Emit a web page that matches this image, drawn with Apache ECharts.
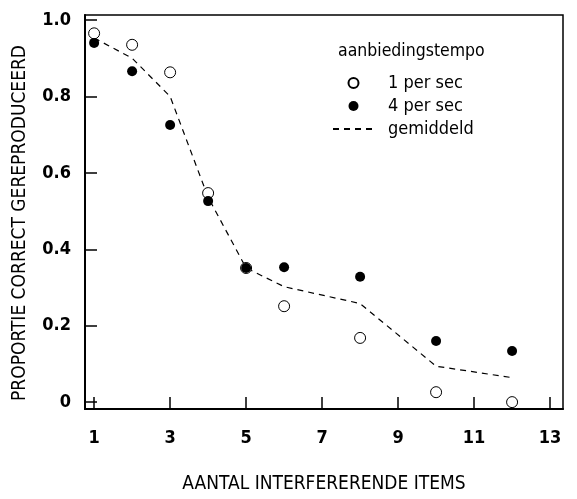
<!DOCTYPE html>
<html>
<head>
<meta charset="utf-8">
<script src="https://cdn.jsdelivr.net/npm/echarts@6/dist/echarts.min.js"></script>
<style>
  html, body { margin: 0; padding: 0; background: #fff; }
  #chart { width: 577px; height: 499px; }
</style>
</head>
<body>
<div id="chart"></div>
<script>
const FONT = "'Liberation Sans Narrow', 'DejaVu Sans Condensed', 'Roboto', sans-serif"

const items = [1, 2, 3, 4, 5, 6, 8, 10, 12]
const perSec1 = [0.965, 0.935, 0.863, 0.547, 0.351, 0.251, 0.168, 0.026, 0.0]
const perSec4 = [0.94, 0.866, 0.725, 0.526, 0.351, 0.353, 0.328, 0.16, 0.134]
const average = [0.953, 0.9, 0.8, 0.536, 0.351, 0.302, 0.258, 0.094, 0.064]

const xTicks = [1, 3, 5, 7, 9, 11, 13]
const yTicks = [0, 0.2, 0.4, 0.6, 0.8, 1.0]
const yTickLabels = ['0', '0.2', '0.4', '0.6', '0.8', '1.0']

const pairs = (ys) => items.map((x, i) => [x, ys[i]])

const chart = echarts.init(document.getElementById('chart'), null, { renderer: 'canvas' })

chart.setOption({
  animation: false,
  backgroundColor: '#fff',
  textStyle: { fontFamily: FONT, color: '#000' },
  grid: {
    left: 85,
    top: 15,
    right: 14,
    bottom: 90,
    show: true,
    borderColor: '#000',
    borderWidth: 1.5
  },
  title: {
    text: 'aanbiedingstempo',
    left: 338,
    top: 42,
    padding: 0,
    textStyle: { fontFamily: FONT, fontSize: 17.5, fontWeight: 'normal', color: '#000' }
  },
  legend: {
    orient: 'vertical',
    left: 332,
    top: 74,
    padding: 0,
    itemWidth: 41,
    itemHeight: 10,
    itemGap: 5,
    selectedMode: false,
    textStyle: { fontFamily: FONT, fontSize: 18, color: '#000', padding: [0, 0, 0, 9] },
    data: [
      '1 per sec',
      '4 per sec',
      { name: 'gemiddeld', itemStyle: { opacity: 0 } }
    ]
  },
  xAxis: {
    type: 'value',
    min: 0.76,
    max: 13.34,
    name: 'AANTAL INTERFERERENDE ITEMS',
    nameLocation: 'middle',
    nameGap: 66,
    nameTextStyle: { fontFamily: FONT, fontSize: 19, color: '#000' },
    splitLine: { show: false },
    axisLine: { onZero: false, lineStyle: { color: '#000', width: 2 } },
    axisTick: { inside: true, length: 12, customValues: xTicks, lineStyle: { color: '#000', width: 1.5 } },
    axisLabel: {
      customValues: xTicks,
      margin: 20,
      fontFamily: FONT,
      fontSize: 18,
      fontWeight: 'bold',
      color: '#000'
    }
  },
  yAxis: {
    type: 'value',
    min: -0.018,
    max: 1.013,
    name: 'PROPORTIE CORRECT GEREPRODUCEERD',
    nameLocation: 'middle',
    nameGap: 55,
    nameTextStyle: { fontFamily: FONT, fontSize: 19, color: '#000', padding: [0, 22, 0, 0] },
    splitLine: { show: false },
    axisLine: { onZero: false, lineStyle: { color: '#000', width: 2 } },
    axisTick: { inside: true, length: 12, customValues: yTicks, lineStyle: { color: '#000', width: 1.5 } },
    axisLabel: {
      customValues: yTicks,
      margin: 14,
      fontFamily: FONT,
      fontSize: 18,
      fontWeight: 'bold',
      color: '#000',
      formatter: (v) => yTickLabels[yTicks.findIndex(t => Math.abs(t - v) < 1e-6)] ?? ''
    }
  },
  series: [
    {
      name: 'gemiddeld',
      type: 'line',
      data: pairs(average),
      symbol: 'none',
      z: 1,
      lineStyle: { color: '#000', width: 1.2, type: [6, 5] },
      itemStyle: { color: '#000' }
    },
    {
      name: '1 per sec',
      type: 'scatter',
      data: pairs(perSec1),
      symbol: 'circle',
      symbolSize: 11,
      z: 2,
      itemStyle: { color: '#fff', borderColor: '#000', borderWidth: 1, opacity: 1 }
    },
    {
      name: '4 per sec',
      type: 'scatter',
      data: pairs(perSec4),
      symbol: 'circle',
      symbolSize: 10,
      z: 3,
      itemStyle: { color: '#000', opacity: 1 }
    }
  ]
})
</script>
</body>
</html>
